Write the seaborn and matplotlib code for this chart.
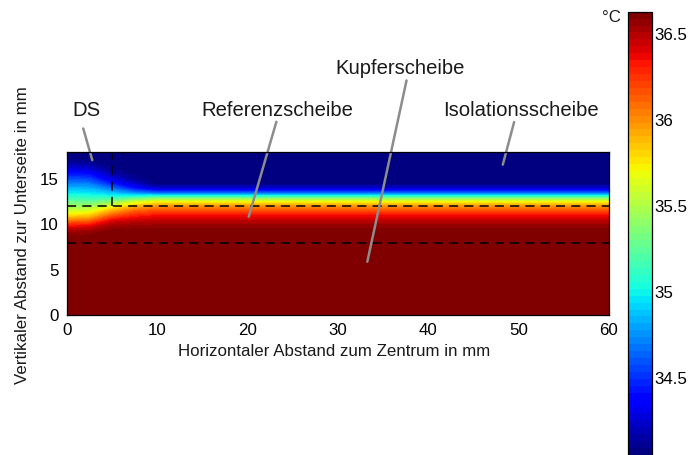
import numpy as np
import matplotlib
matplotlib.use('Agg')
import matplotlib.pyplot as plt
from matplotlib.colors import Normalize
import seaborn as sns

sns.set_theme(style='white')
plt.rcParams['font.family'] = ['Liberation Sans', 'DejaVu Sans']

x_mm = [0, 2.5, 5, 7.5, 10, 60]
y_mm = [0, 8, 9, 9.5, 10, 10.5, 11, 11.5, 12, 12.5, 13, 13.5, 14, 14.5, 15, 15.5, 16, 16.5, 17, 18]

# temperature profiles (°C) along y_mm, one list per x position
t_x0 = [36.66, 36.64, 36.58, 36.45, 36.27, 36.0, 35.76, 35.58, 35.42, 35.27,
        35.1, 34.96, 34.84, 34.72, 34.58, 34.45, 34.3, 34.2, 34.1, 34.05]
t_x2_5 = [36.66, 36.65, 36.59, 36.48, 36.3, 36.05, 35.82, 35.62, 35.44, 35.27,
          35.09, 34.95, 34.82, 34.69, 34.55, 34.42, 34.28, 34.17, 34.08, 34.05]
t_x5 = [36.66, 36.66, 36.63, 36.59, 36.5, 36.35, 36.12, 35.9, 35.66, 35.38,
        35.07, 34.85, 34.65, 34.45, 34.28, 34.18, 34.1, 34.06, 34.05, 34.05]
t_x7_5 = [36.66, 36.66, 36.64, 36.6, 36.53, 36.42, 36.28, 36.1, 35.88, 35.58,
          35.13, 34.7, 34.4, 34.22, 34.12, 34.07, 34.05, 34.05, 34.05, 34.05]
t_x10 = [36.66, 36.66, 36.65, 36.61, 36.54, 36.45, 36.34, 36.17, 35.98, 35.7,
         35.2, 34.6, 34.22, 34.05, 34.05, 34.05, 34.05, 34.05, 34.05, 34.05]
t_x60 = [36.66, 36.66, 36.65, 36.61, 36.54, 36.45, 36.34, 36.17, 35.98, 35.7,
         35.2, 34.6, 34.22, 34.05, 34.05, 34.05, 34.05, 34.05, 34.05, 34.05]

# layer boundaries (mm)
boundary_y = [8, 12]
ds_x = 5

t_min, t_max = 34.05, 36.63
cbar_ticks = [34.5, 35, 35.5, 36, 36.5]
cbar_labels = ['34.5', '35', '35.5', '36', '36.5']

labels = ['DS', 'Referenzscheibe', 'Kupferscheibe', 'Isolationsscheibe']
label_pos = [(2.14, 22.6), (23.35, 22.6), (36.83, 27.26), (50.3, 22.6)]
pointer_from = [(1.83, 20.6), (23.2, 21.34), (37.6, 25.9), (49.5, 21.3)]
pointer_to = [(2.83, 17.1), (20.14, 10.85), (33.26, 5.88), (48.25, 16.6)]

T = np.array([t_x0, t_x2_5, t_x5, t_x7_5, t_x10, t_x60]).T
cmap = plt.get_cmap('jet', 64)
norm = Normalize(t_min, t_max)

fs = 12.2
fig = plt.figure(figsize=(6.96, 4.55), dpi=100)
ax = fig.add_axes([66.7 / 696, 1 - 315 / 455, 542.3 / 696, 163 / 455])

ax.contourf(x_mm, y_mm, T, levels=np.linspace(34.0, 36.7, 160), cmap=cmap, norm=norm)

for yb in boundary_y:
    sns.lineplot(x=[0, 60], y=[yb, yb], ax=ax, color='black', lw=1.1,
                 linestyle=(0, (6, 4)))
sns.lineplot(x=[ds_x, ds_x], y=[12, 18], ax=ax, color='black', lw=1.1,
             linestyle=(0, (6, 4)), orient='y')

for txt, p, a, b in zip(labels, label_pos, pointer_from, pointer_to):
    ax.text(p[0], p[1], txt, ha='center', va='center', fontsize=14.6, color='#1a1a1a')
    ax.plot([a[0], b[0]], [a[1], b[1]], color='#8c8c8c', lw=1.8, clip_on=False)

ax.set_xlim(0, 60)
ax.set_ylim(0, 18)
ax.set_xticks(range(0, 61, 10))
ax.set_yticks([0, 5, 10, 15])
ax.tick_params(direction='in', length=4, width=0.8, top=True, right=True,
               bottom=True, left=True, labelsize=fs, colors='black', pad=6)
for s in ax.spines.values():
    s.set_color('black')
    s.set_linewidth(0.9)

fig.text(334 / 696, 1 - 352 / 455, 'Horizontaler Abstand zum Zentrum in mm',
         ha='center', va='center', fontsize=fs, color='#1a1a1a')
fig.text(23 / 696, 1 - 235 / 455, 'Vertikaler Abstand zur Unterseite in mm',
         ha='center', va='center', rotation=90, fontsize=fs, color='#1a1a1a')

cax = fig.add_axes([628 / 696, 0.0, 24 / 696, 1 - 11.7 / 455])
sm = plt.cm.ScalarMappable(norm=norm, cmap=cmap)
cb = fig.colorbar(sm, cax=cax)
cb.set_ticks(cbar_ticks)
cb.set_ticklabels(cbar_labels)
cb.outline.set_edgecolor('black')
cb.outline.set_linewidth(0.9)
cax.tick_params(direction='in', length=4, width=0.8, left=True, right=True,
                labelsize=fs, colors='black', pad=2)
fig.text(611 / 696, 1 - 17 / 455, '°C', ha='center', va='center',
         fontsize=fs, color='#1a1a1a')

fig.savefig('out.png', dpi=100)
